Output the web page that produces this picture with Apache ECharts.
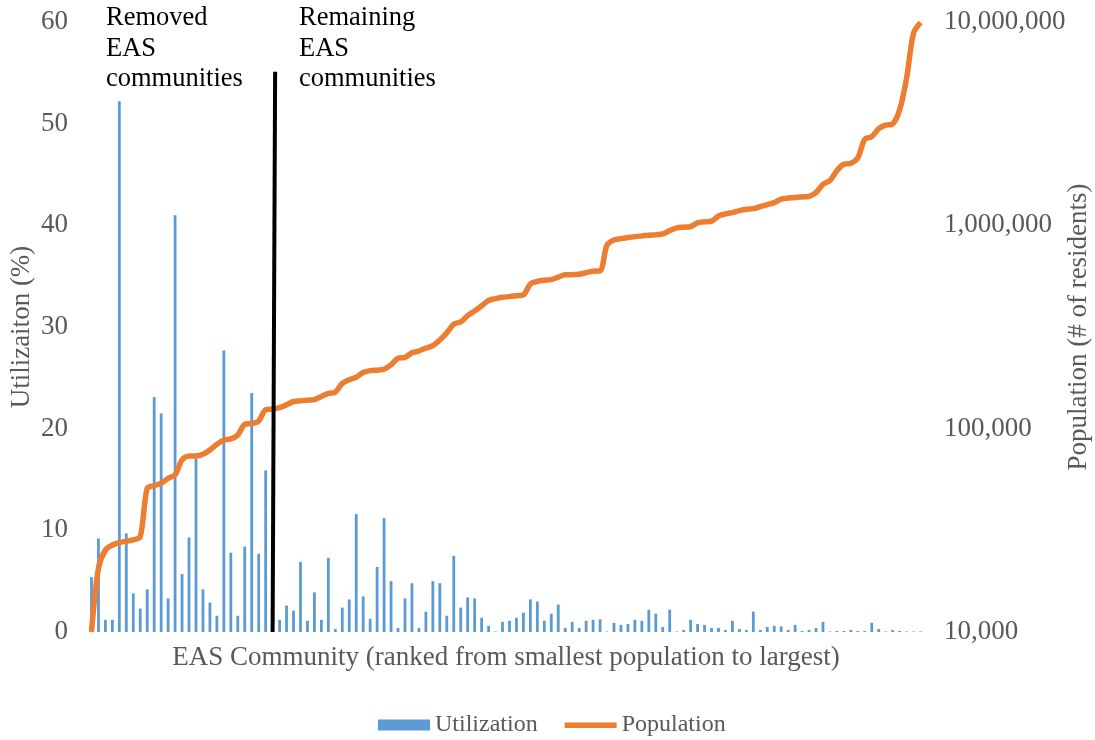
<!DOCTYPE html>
<html>
<head>
<meta charset="utf-8">
<title>EAS communities</title>
<script src="https://cdn.jsdelivr.net/npm/echarts@6.0.0/dist/echarts.min.js"></script>
<style>
html, body { margin: 0; padding: 0; background: #fff; }
#eas_chart { width: 1095px; height: 740px; }
</style>
</head>
<body>
<div id="eas_chart"></div>
<script>
/** utilization (%) per EAS community, ranked by population */
var utilization = [
	5.4, 9.2, 1.2, 1.2, 52.2, 9.7, 3.8, 2.3, 4.2, 23.1,
	21.5, 3.3, 41.0, 5.7, 9.3, 17.1, 4.2, 2.9, 1.6, 27.7,
	7.8, 1.6, 8.4, 23.5, 7.7, 15.9, 0, 1.2, 2.6, 2.1,
	6.9, 1.1, 3.9, 1.2, 7.3, 0.3, 2.4, 3.2, 11.6, 3.5,
	1.3, 6.4, 11.2, 5.0, 0.4, 3.3, 4.8, 0.4, 2.0, 5.0,
	4.8, 1.6, 7.5, 2.4, 3.4, 3.3, 1.4, 0.6, 0.05, 1.0,
	1.1, 1.4, 1.9, 3.2, 3.0, 1.1, 1.8, 2.7, 0.4, 1.0,
	0.4, 1.1, 1.2, 1.25, 0.05, 0.9, 0.7, 0.8, 1.2, 1.1,
	2.2, 1.8, 0.5, 2.2, 0.05, 0.2, 1.2, 0.8, 0.7, 0.4,
	0.4, 0.2, 1.1, 0.3, 0.2, 2.0, 0.2, 0.5, 0.6, 0.55,
	0.2, 0.7, 0.1, 0.2, 0.4, 1.0, 0.05, 0.1, 0.1, 0.2,
	0.1, 0.1, 0.9, 0.3, 0.05, 0.2, 0.1, 0.05, 0.05, 0.05
];
/** population (# of residents) */
var population = [
	10000, 20600, 25300, 26800, 27500, 28000, 28400, 29400, 50900, 52400,
	53900, 57000, 59200, 70200, 73400, 73400, 74800, 78600, 83800, 88000,
	89000, 93100, 105000, 106000, 109000, 124000, 125000, 127000, 131000, 136000,
	137000, 138000, 139000, 144000, 149000, 151000, 167000, 174000, 179000, 189000,
	193000, 194000, 196000, 206000, 222000, 224000, 236000, 241000, 249000, 256000,
	273000, 296000, 327000, 335000, 360000, 379000, 402000, 427000, 436000, 443000,
	446000, 451000, 455000, 515000, 530000, 537000, 541000, 556000, 571000, 572000,
	575000, 585000, 595000, 597000, 801000, 848000, 860000, 871000, 880000, 887000,
	894000, 900000, 907000, 942000, 971000, 979000, 986000, 1029000, 1040000, 1048000,
	1112000, 1138000, 1155000, 1181000, 1200000, 1208000, 1236000, 1264000, 1294000, 1344000,
	1364000, 1369000, 1379000, 1390000, 1448000, 1590000, 1660000, 1858000, 1996000, 2019000,
	2146000, 2650000, 2731000, 2989000, 3107000, 3152000, 3696000, 5294000, 8810000, 9950000
];
/** divider between removed and remaining communities: [rank position, utilization] */
var dividerLine = [[26.5, 0], [26.86, 55.1]];
var utilTicks = [0, 60, 10];
var popTicks = [10000, 10000000];

/** community ranks, used as categories */
var categories = [];
for (var i = 0; i < utilization.length; i++) {
	categories.push(String(i + 1));
}

var FONT = '"Liberation Serif", "Times New Roman", serif';
var GREY = '#595959';
var ORANGE = '#ED7D31';

var easChart = {
	chart: null,
	option: {
		animation: false,
		grid: { left: 88, right: 171, top: 22, bottom: 108, outerBoundsMode: 'none', containLabel: false },
		legend: {
			data: [
				{ name: 'Utilization', icon: 'rect' },
				/** flat stroke, no marker */
				{ name: 'Population', icon: 'path://M0,0 M0,3 L52,3 L52,8.5 L0,8.5 Z M52,11', itemStyle: { color: ORANGE } }
			],
			top: 708,
			left: 373,
			itemWidth: 52,
			itemHeight: 11,
			itemGap: 27,
			textStyle: { fontFamily: FONT, fontSize: 24, color: GREY }
		},
		xAxis: [{
			type: 'category',
			data: categories,
			boundaryGap: true,
			name: 'EAS Community (ranked from smallest population to largest)',
			nameLocation: 'middle',
			nameGap: 12,
			nameMoveOverlap: false,
			nameTextStyle: { fontFamily: FONT, fontSize: 27, color: GREY, verticalAlign: 'top' },
			axisLine: { show: false },
			axisTick: { show: false },
			axisLabel: { show: false },
			splitLine: { show: false }
		}, {
			type: 'value',
			min: 0,
			max: categories.length,
			show: false
		}],
		yAxis: [{
			type: 'value',
			min: utilTicks[0],
			max: utilTicks[1],
			interval: utilTicks[2],
			name: 'Utilizaiton (%)',
			nameLocation: 'middle',
			nameGap: 53,
			nameMoveOverlap: false,
			nameTextStyle: { fontFamily: FONT, fontSize: 27, color: GREY },
			axisLine: { show: false },
			axisTick: { show: false },
			axisLabel: { fontFamily: FONT, fontSize: 27, color: GREY, margin: 20 },
			splitLine: { show: false }
		}, {
			type: 'log',
			logBase: 10,
			min: popTicks[0],
			max: popTicks[1],
			name: 'Population (# of residents)',
			nameLocation: 'middle',
			nameGap: 141,
			nameRotate: 90,
			nameMoveOverlap: false,
			nameTextStyle: { fontFamily: FONT, fontSize: 27, color: GREY },
			axisLine: { show: false },
			axisTick: { show: false },
			axisLabel: {
				fontFamily: FONT, fontSize: 27, color: GREY, margin: 20,
				formatter: function (v) { return Number(v).toLocaleString('en-US'); }
			},
			splitLine: { show: false }
		}],
		graphic: [{
			type: 'text', left: 106, top: 3, z: 10,
			style: { text: 'Removed\nEAS\ncommunities', font: '26.5px ' + FONT, lineHeight: 30.5, fill: '#000' }
		}, {
			type: 'text', left: 299, top: 3, z: 10,
			style: { text: 'Remaining\nEAS\ncommunities', font: '26.5px ' + FONT, lineHeight: 30.5, fill: '#000' }
		}],
		series: [{
			name: 'Utilization',
			type: 'bar',
			xAxisIndex: 0,
			yAxisIndex: 0,
			barWidth: 2.8,
			itemStyle: { color: '#5B9BD5' },
			data: utilization,
			z: 2
		}, {
			name: 'Population',
			type: 'line',
			xAxisIndex: 0,
			yAxisIndex: 1,
			smooth: 0.3,
			symbol: 'none',
			lineStyle: { color: ORANGE, width: 5.5 },
			itemStyle: { color: ORANGE },
			data: population,
			z: 3
		}, {
			name: 'divider',
			type: 'line',
			xAxisIndex: 1,
			yAxisIndex: 0,
			symbol: 'none',
			silent: true,
			lineStyle: { color: '#000', width: 4 },
			data: dividerLine,
			z: 4
		}]
	},
	init: function () {
		this.chart = echarts.init(document.getElementById('eas_chart'), null, { renderer: 'canvas' });
		this.chart.setOption(this.option);
	}
};

easChart.init();
</script>
</body>
</html>
